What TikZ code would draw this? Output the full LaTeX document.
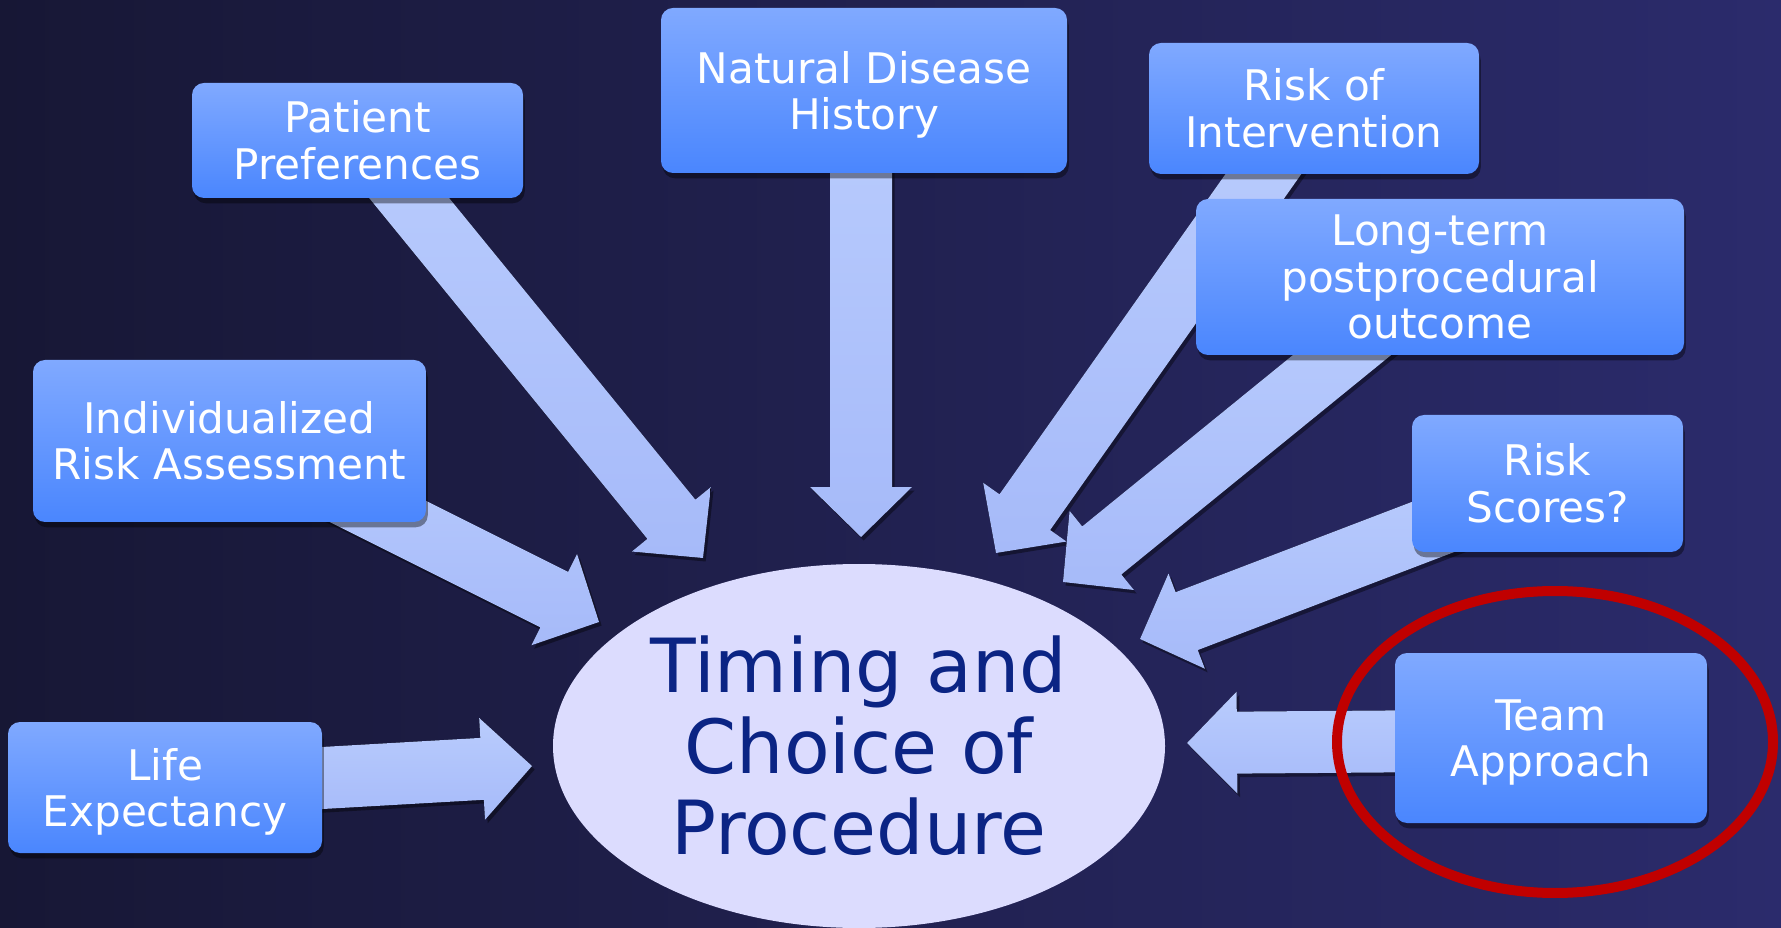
\documentclass[tikz,border=0pt]{standalone}
\usepackage{fontspec}
\setmainfont{DejaVu Sans}
\usetikzlibrary{calc,shapes.geometric,shadows}
\definecolor{bgL}{HTML}{171735}
\definecolor{bgM}{HTML}{1E1E47}
\definecolor{bgR}{HTML}{2B2B6C}
\definecolor{boxT}{HTML}{80A9FF}
\definecolor{boxB}{HTML}{4A86FE}
\definecolor{arrT}{HTML}{B9CCFD}
\definecolor{arrB}{HTML}{A6BAF9}
\definecolor{ellF}{HTML}{DCDCFE}
\definecolor{ellT}{HTML}{0B2484}
\definecolor{ringC}{HTML}{C00000}
\newcommand\blkarrow[2]{%
  \coordinate (hb) at ($(#2)!1cm!(#1)$);
  \fill[barrow] ($(#1)!0.62cm!90:(#2)$) -- ($(hb)!0.62cm!90:(#2)$) -- ($(hb)!1.02cm!90:(#2)$) -- (#2)
    -- ($(hb)!1.02cm!-90:(#2)$) -- ($(hb)!0.62cm!-90:(#2)$) -- ($(#1)!0.62cm!-90:(#2)$) -- cycle;}
\begin{document}
\begin{tikzpicture}[x=0.02cm,y=-0.02cm,
  bx/.style 2 args={draw=none, rounded corners=0.24cm, top color=boxT, bottom color=boxB,
    minimum width=#1*0.02cm, minimum height=#2*0.02cm, inner sep=0pt, text=white, align=center,
    font=\fontsize{24}{26.5}\selectfont,
    drop shadow={fill=black, opacity=0.4, shadow xshift=1pt, shadow yshift=-3pt}},
  nodesc/.style={text depth=0pt},
  barrow/.style={top color=arrT, bottom color=arrB,
    drop shadow={fill=black, opacity=0.4, shadow xshift=1.5pt, shadow yshift=-2pt}},
]
\useasboundingbox (0,0) rectangle (1781,928);
\fill[left color=bgL, middle color=bgM, right color=bgR] (0,0) rectangle (1781,928);

% central ellipse
\node[ellipse, fill=ellF, minimum width=612*0.02cm, minimum height=364*0.02cm, inner sep=0pt] (tc) at (859,746) {};
\node[text=ellT, align=center, font=\fontsize{42.5}{46.2}\selectfont] (tct) at (859,745.5) {Timing and\\Choice of\\Procedure};

% arrow ends
\coordinate (a1s) at (200,785);  \coordinate (a1e) at (532,766);
\coordinate (a2s) at (241,443);  \coordinate (a2e) at (599,622);
\coordinate (a3s) at (365,144);  \coordinate (a3e) at (703,558);
\coordinate (a4s) at (861,100);  \coordinate (a4e) at (861,537);
\coordinate (a5s) at (1298,125); \coordinate (a5e) at (996,553);
\coordinate (a6s) at (1390,316); \coordinate (a6e) at (1063,582);
\coordinate (a7s) at (1514,496); \coordinate (a7e) at (1140,639);
\coordinate (a8s) at (1450,741); \coordinate (a8e) at (1187,743);
\blkarrow{a1s}{a1e}
\blkarrow{a2s}{a2e}
\blkarrow{a3s}{a3e}
\blkarrow{a4s}{a4e}
\blkarrow{a5s}{a5e}
\blkarrow{a6s}{a6e}
\blkarrow{a7s}{a7e}
\blkarrow{a8s}{a8e}

% boxes
\node[bx={331}{115}] (pp) at (357.5,140.5) {Patient\\Preferences};
\node[bx={406}{165}, nodesc] (nd) at (864,90.5) {Natural Disease\\History};
\node[bx={330}{131}] (ri) at (1314,108.5) {Risk of\\Intervention};
\node[bx={488}{156}] (lt) at (1440,277) {Long-term\\postprocedural\\outcome};
\node[bx={271}{137}] (rs) at (1547.5,483.5) {Risk\\Scores?};
\node[bx={312}{170}, nodesc] (ta) at (1551,738) {Team\\Approach};
\node[bx={393}{162}] (ir) at (229.5,441) {Individualized\\Risk Assessment};
\node[bx={314}{131}, nodesc] (le) at (165,787.5) {Life\\Expectancy};

% red ring
\node[ellipse, draw=ringC, line width=0.2cm, minimum width=436*0.02cm, minimum height=302*0.02cm, inner sep=0pt] (ring) at (1555,742) {};
\end{tikzpicture}
\end{document}
